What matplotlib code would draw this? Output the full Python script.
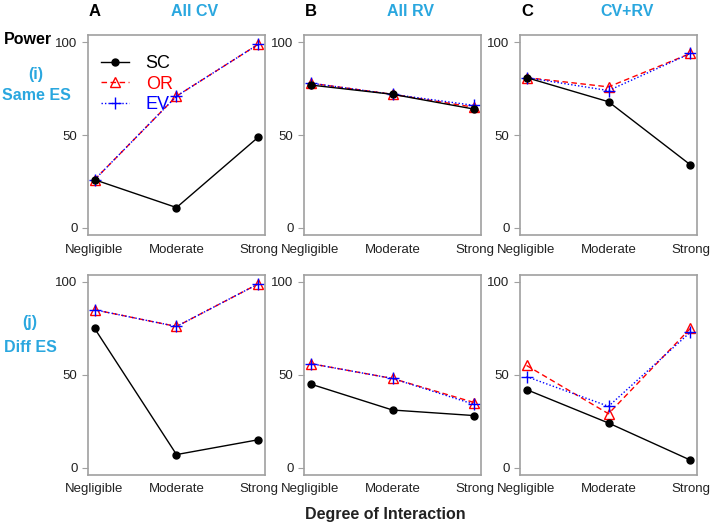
import matplotlib.pyplot as plt
import numpy as np

plt.rcParams['font.family'] = ['Liberation Sans', 'DejaVu Sans']

levels = ['Negligible', 'Moderate', 'Strong']
col_letters = ['A', 'B', 'C']
col_titles = ['All CV', 'All RV', 'CV+RV']

# power values, rows: (i) same ES, (j) diff ES ; cols: All CV, All RV, CV+RV
sc = [[[26, 11, 49], [77, 72, 64], [81, 68, 34]],
      [[75, 7, 15], [45, 31, 28], [42, 24, 4]]]
orr = [[[26, 71, 99], [78, 72, 65], [81, 76, 94]],
       [[85, 76, 99], [56, 48, 35], [55, 29, 75]]]
ev = [[[26, 71, 99], [78, 72, 66], [81, 74, 94]],
      [[85, 76, 99], [56, 48, 34], [49, 33, 73]]]

blue_txt = '#2aa7df'
x = np.arange(1, 4)

fig = plt.figure(figsize=(7.13, 5.27), dpi=100)
lefts = [88 / 713, 304 / 713, 520 / 713]
bottoms = [1 - 235.4 / 527, 1 - 475 / 527]
w = 177 / 713
h = 200.5 / 527

for r in range(2):
    for c in range(3):
        ax = fig.add_axes([lefts[c], bottoms[r], w, h])
        ax.plot(x, sc[r][c], color='black', lw=1, marker='o', ms=5,
                label='SC', zorder=3)
        ax.plot(x, orr[r][c], color='red', lw=1, ls=(0, (4, 2.5)), marker='^',
                ms=7, mfc='none', mec='red', label='OR', zorder=2)
        ax.plot(x, ev[r][c], color='blue', lw=1, ls=(0, (1, 1.5)), marker='+',
                ms=9, mew=1, label='EV', zorder=2)
        ax.set_xlim(0.92, 3.08)
        ax.set_ylim(-4, 104)
        ax.set_xticks(x)
        ax.set_xticklabels(levels)
        ax.set_yticks([0, 50, 100])
        for s in ax.spines.values():
            s.set_color('#a0a0a0')
            s.set_linewidth(1.2)
        ax.tick_params(colors='#a0a0a0', labelcolor='#222222', labelsize=9.5,
                       length=4)
        ax.tick_params(axis='x', length=0, pad=6)
        if r == 0 and c == 0:
            leg = ax.legend(loc='upper left', frameon=False, fontsize=13,
                            handlelength=1.6, handletextpad=0.9,
                            labelspacing=0.2, borderaxespad=0.0,
                            bbox_to_anchor=(0.03, 0.935))
            for t, col in zip(leg.get_texts(), ['black', 'red', 'blue']):
                t.set_color(col)

for c in range(3):
    fig.text((lefts[c] + 7 / 713), 1 - 11 / 527, col_letters[c], fontsize=12,
             fontweight='bold', ha='center', va='center')
    fig.text(lefts[c] + 0.15, 1 - 11 / 527, col_titles[c], fontsize=11.5,
             fontweight='bold', color=blue_txt, ha='center', va='center')

fig.text(4 / 713, 1 - 40 / 527, 'Power', fontsize=11.5, fontweight='bold',
         ha='left', va='center')
fig.text(36 / 713, 1 - 75 / 527, '(i)', fontsize=11.5, fontweight='bold',
         color=blue_txt, ha='center', va='center')
fig.text(36 / 713, 1 - 96 / 527, 'Same ES', fontsize=11.5, fontweight='bold',
         color=blue_txt, ha='center', va='center')
fig.text(30 / 713, 1 - 323 / 527, '(j)', fontsize=11.5, fontweight='bold',
         color=blue_txt, ha='center', va='center')
fig.text(30 / 713, 1 - 347 / 527, 'Diff ES', fontsize=11.5, fontweight='bold',
         color=blue_txt, ha='center', va='center')
fig.text(385 / 713, 1 - 515 / 527, 'Degree of Interaction', fontsize=11.5,
         fontweight='bold', color='#222222', ha='center', va='center')

fig.savefig('out.png', dpi=100)
